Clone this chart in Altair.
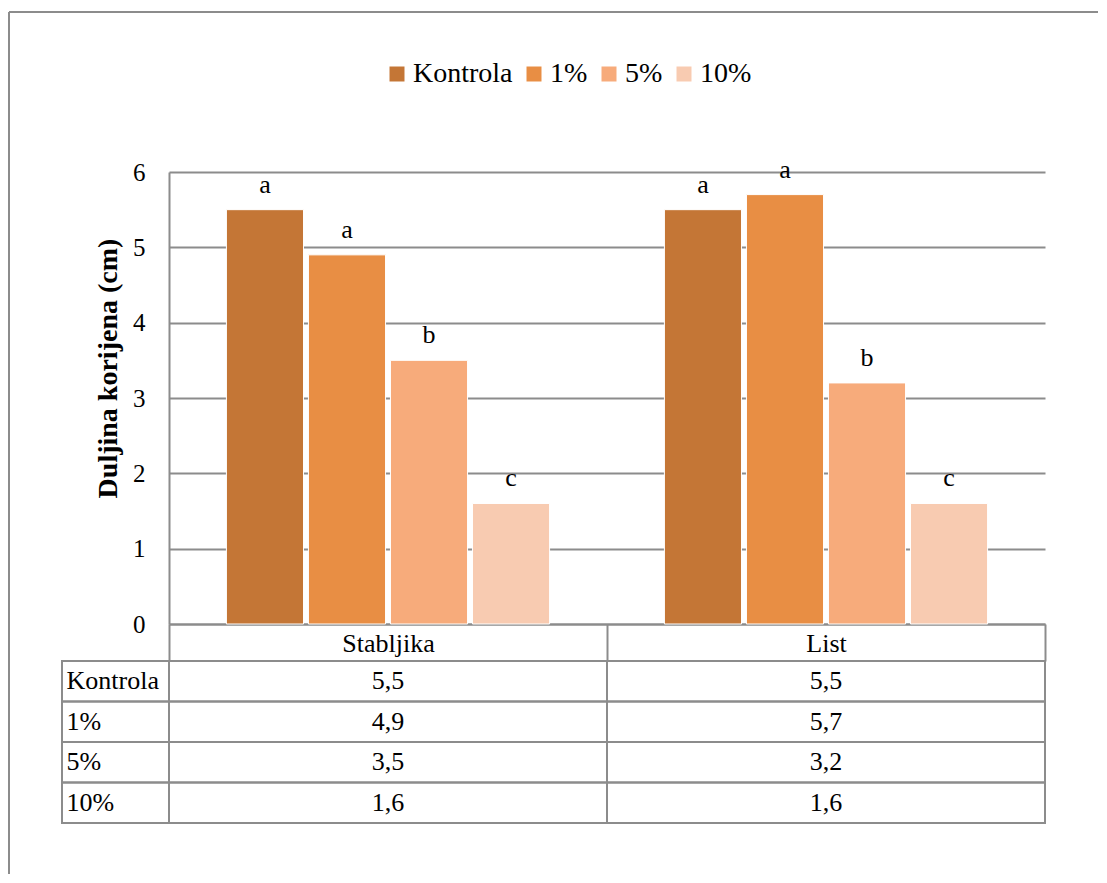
import altair as alt
import pandas as pd

categories = ["Stabljika", "List"]
series = ["Kontrola", "1%", "5%", "10%"]
stabljika_values = [5.5, 4.9, 3.5, 1.6]
list_values = [5.5, 5.7, 3.2, 1.6]
stabljika_letters = ["a", "a", "b", "c"]
list_letters = ["a", "a", "b", "c"]
colors = ["#C47636", "#E88E44", "#F7AB7B", "#F8CBB1"]
y_ticks = [0, 1, 2, 3, 4, 5, 6]

rows = []
for cat, vals, lets in [("Stabljika", stabljika_values, stabljika_letters),
                        ("List", list_values, list_letters)]:
    for s, v, l in zip(series, vals, lets):
        rows.append({"category": cat, "series": s, "value": v, "letter": l})
df = pd.DataFrame(rows)

FONT = "Times New Roman, Liberation Serif, Tinos, serif"
GRAY = "#8C8C8C"

x_enc = alt.X(
    "category:N", sort=categories,
    scale=alt.Scale(paddingInner=0, paddingOuter=0),
    axis=alt.Axis(title=None, grid=False, domain=True, domainColor=GRAY, domainWidth=2,
                  ticks=True, tickBand="extent", tickSize=37, tickColor=GRAY, tickWidth=2,
                  labelFont=FONT, labelFontSize=26, labelColor="black",
                  labelBaseline="middle", labelPadding=-18, labelAngle=0),
)
xoff_enc = alt.XOffset("series:N", sort=series,
                       scale=alt.Scale(paddingInner=0.06, paddingOuter=0.7))
y_enc = alt.Y(
    "value:Q", scale=alt.Scale(domain=[0, 6], nice=False),
    axis=alt.Axis(values=y_ticks, grid=True, gridColor=GRAY, gridWidth=2,
                  domain=True, domainColor=GRAY, domainWidth=2, ticks=False,
                  labelFont=FONT, labelFontSize=25, labelColor="black", labelPadding=24,
                  title="Duljina korijena (cm)", titleFont=FONT, titleFontSize=28,
                  titleFontWeight="bold", titleColor="black", titlePadding=10, titleY=196),
)

bars = alt.Chart(df).mark_bar(stroke="white", strokeWidth=1).encode(
    x=x_enc, xOffset=xoff_enc, y=y_enc,
    color=alt.Color("series:N", sort=series,
                    scale=alt.Scale(domain=series, range=colors),
                    legend=alt.Legend(title=None, orient="none", direction="horizontal",
                                      legendX=214, legendY=-112,
                                      symbolType="square", symbolSize=225, symbolStrokeWidth=0,
                                      labelFont=FONT, labelFontSize=28, labelColor="black",
                                      labelOffset=2, columnPadding=7)),
)

letters = alt.Chart(df).mark_text(font=FONT, fontSize=26, baseline="alphabetic",
                                  dy=-17, color="black").encode(
    x=x_enc, xOffset=xoff_enc, y=y_enc, text="letter:N")

frame_df = pd.DataFrame({"k": [0]})
frame_top = alt.Chart(frame_df).mark_rule(color=GRAY, strokeWidth=2).encode(
    x=alt.value(-160), x2=alt.value(929), y=alt.value(-160))
frame_left = alt.Chart(frame_df).mark_rule(color=GRAY, strokeWidth=2).encode(
    x=alt.value(-160), y=alt.value(-160), y2=alt.value(702))

top = alt.layer(frame_top, frame_left, bars, letters).properties(width=876, height=452)

tdf = df.copy()
tdf["label"] = [f"{v:.1f}".replace(".", ",") for v in tdf["value"]]

tx = alt.X("category:N", sort=categories, scale=alt.Scale(paddingInner=0, paddingOuter=0), axis=None)
ty = alt.Y("series:N", sort=series, scale=alt.Scale(paddingInner=0, paddingOuter=0),
           axis=alt.Axis(title=None, ticks=False, domain=False, grid=False,
                         labelAlign="left", labelPadding=103, labelFont=FONT,
                         labelFontSize=26, labelColor="black"))

cells = alt.Chart(tdf).mark_rect(fill="white", fillOpacity=0, stroke=GRAY, strokeWidth=2).encode(
    x=tx, y=ty)
label_cells = alt.Chart(pd.DataFrame({"series": series})).mark_rect(
    fill="white", fillOpacity=0, stroke=GRAY, strokeWidth=2).encode(
    x=alt.value(-107), x2=alt.value(0), y=ty)
cell_text = alt.Chart(tdf).mark_text(font=FONT, fontSize=26, color="black").encode(
    x=tx, y=ty, text="label:N")

table = alt.layer(cells, label_cells, cell_text).properties(width=876, height=162)

chart = alt.vconcat(top, table, spacing=37, bounds="flush").properties(
    padding={"left": 0, "top": 3, "right": 0, "bottom": 0},
    background="white",
).configure_view(stroke=None)

chart.save("out.html", embed_options={"renderer": "svg", "actions": False})
